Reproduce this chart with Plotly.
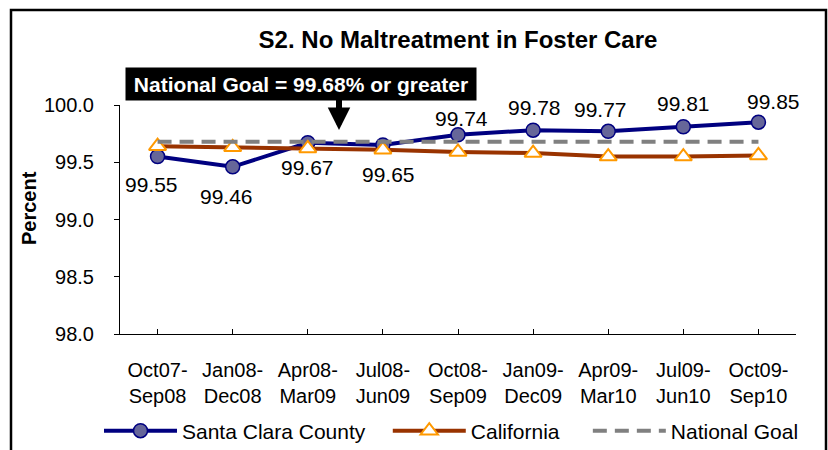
import plotly.graph_objects as go

categories = ["Oct07-<br>Sep08", "Jan08-<br>Dec08", "Apr08-<br>Mar09", "Jul08-<br>Jun09",
              "Oct08-<br>Sep09", "Jan09-<br>Dec09", "Apr09-<br>Mar10", "Jul09-<br>Jun10",
              "Oct09-<br>Sep10"]
santa_clara = [99.55, 99.46, 99.67, 99.65, 99.74, 99.78, 99.77, 99.81, 99.85]
california = [99.64, 99.63, 99.62, 99.61, 99.59, 99.58, 99.55, 99.55, 99.56]
national_goal = [99.68, 99.68, 99.68, 99.68, 99.68, 99.68, 99.68, 99.68, 99.68]
y_ticks = [98.0, 98.5, 99.0, 99.5, 100.0]

# label placement (pixel shifts from each point), styling only
label_shifts = [(-6, -28), (-6, -30), (0, -25), (6, -29), (3, 16),
                (1, 23), (-8, 22), (0, 23), (15, 21)]

FONT = "Liberation Sans, Arial, sans-serif"
W, H = 828, 450
L, R, T, B = 120, 32, 105, 116
PW, PH = W - L - R, H - T - B
NB = "\u00a0"


def px(x):
    return (x - L) / PW


def py(y):
    return (H - B - y) / PH


fig = go.Figure()
fig.add_trace(go.Scatter(
    x=categories, y=santa_clara, name="Santa Clara County" + NB * 3, mode="lines+markers",
    line=dict(color="#000080", width=4),
    marker=dict(symbol="circle", size=14, color="#666699", line=dict(color="#000080", width=1.5)),
))
fig.add_trace(go.Scatter(
    x=categories, y=california, name="California" + NB * 4, mode="lines+markers",
    line=dict(color="#993300", width=4),
    marker=dict(symbol="triangle-up", size=15, color="white", line=dict(color="#FF9900", width=2)),
))
fig.add_trace(go.Scatter(
    x=categories, y=national_goal, name="National Goal", mode="lines",
    line=dict(color="#808080", width=4, dash="14px,8px"),
))

annotations = []
for c, v, (dx, dy) in zip(categories, santa_clara, label_shifts):
    annotations.append(dict(x=c, y=v, xref="x", yref="y", text=f"{v:.2f}", showarrow=False,
                            xanchor="center", yanchor="middle",
                            xshift=dx, yshift=dy, font=dict(family=FONT, size=21, color="black")))

# arrow
annotations.append(dict(x=px(339), y=py(130), xref="paper", yref="paper", text="",
                        showarrow=True, ax=0, ay=-34, arrowhead=2, arrowsize=0.75,
                        arrowwidth=6, arrowcolor="black"))
# National goal callout box
annotations.append(dict(x=px(301), y=py(84), xref="paper", yref="paper",
                        xanchor="center", yanchor="middle",
                        text="<b>National Goal = 99.68% or greater</b>", showarrow=False,
                        bgcolor="black", width=348, height=30,
                        font=dict(family=FONT, size=21, color="white")))
# y-axis title
annotations.append(dict(x=px(29), y=py(208), xref="paper", yref="paper", text="<b>Percent</b>",
                        xanchor="center", yanchor="middle",
                        showarrow=False, textangle=-90,
                        font=dict(family=FONT, size=20, color="black")))

fig.update_layout(
    width=W, height=H,
    margin=dict(l=L, r=R, t=T, b=B, autoexpand=False),
    paper_bgcolor="white", plot_bgcolor="white",
    font=dict(family=FONT, size=20, color="black"),
    title=dict(text="<b>S2. No Maltreatment in Foster Care</b>", x=0.5, xref="paper",
               y=1 - 40 / H, yref="container", xanchor="center", yanchor="middle",
               font=dict(family=FONT, size=24, color="black")),
    showlegend=True,
    legend=dict(orientation="h", x=px(99), y=py(431), xref="paper", yref="paper",
                xanchor="left", yanchor="middle",
                font=dict(family=FONT, size=21, color="black"), bgcolor="rgba(0,0,0,0)",
                itemwidth=73),
    annotations=annotations,
    shapes=[dict(type="rect", xref="paper", yref="paper",
                 x0=px(11), x1=px(826), y0=py(460), y1=py(10),
                 line=dict(color="black", width=2.5), fillcolor="rgba(0,0,0,0)", layer="below")],
)
fig.update_xaxes(range=[-0.5, 8.5], showline=True, linecolor="black", linewidth=1,
                 ticks="inside", ticklen=5, tickcolor="black", showgrid=False, zeroline=False,
                 automargin=False,
                 tickfont=dict(family=FONT, size=20, color="black"), ticklabelstandoff=18)
fig.update_yaxes(range=[98, 100], tickvals=y_ticks, tickformat=".1f", showline=True,
                 linecolor="black", linewidth=1, ticks="outside", ticklen=5, tickcolor="black",
                 showgrid=False, zeroline=False, automargin=False,
                 tickfont=dict(family=FONT, size=20, color="black"), ticklabelstandoff=16)

fig.write_html("out.html", config={"displayModeBar": False},
               post_script="document.body.style.margin='0';")
